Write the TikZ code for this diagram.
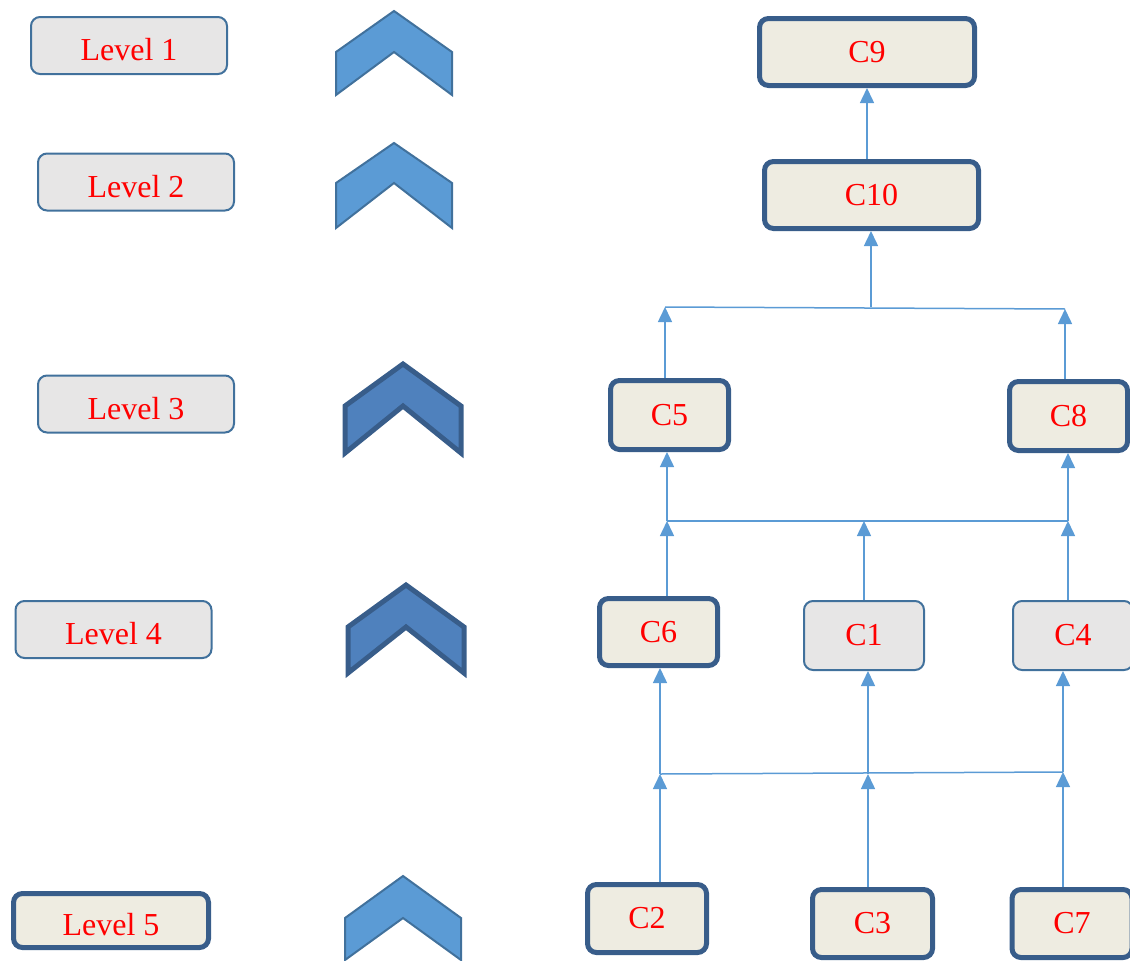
\documentclass[tikz,border=0pt]{standalone}
\usepackage{fontspec}
\setmainfont{Liberation Serif}
\usetikzlibrary{arrows.meta,positioning}
\definecolor{levelgray}{RGB}{231,230,230}
\definecolor{boxbeige}{RGB}{238,236,225}
\definecolor{edgeblue}{RGB}{65,113,156}
\definecolor{darkedge}{RGB}{56,93,138}
\definecolor{linkblue}{RGB}{91,155,213}
\definecolor{chevfill}{RGB}{79,129,189}

\tikzset{
  thinbox/.style={rectangle, draw=edgeblue, line width=2pt, rounded corners=9pt, fill=levelgray, text=red, font=\fontsize{32}{34}\selectfont, inner sep=0pt},
  thickbox/.style={thinbox, draw=darkedge, line width=5pt, fill=boxbeige},
  lowtext/.style={text height=30pt, text depth=0pt},
  link/.style={draw=linkblue, line width=1.5pt, -{Triangle[width=14pt,length=15pt]}},
  bus/.style={draw=linkblue, line width=1.5pt},
  chevlight/.style={fill=linkblue, draw=edgeblue, line width=2pt},
  chevdark/.style={fill=chevfill, draw=darkedge, line width=5pt},
}

\begin{document}
\begin{tikzpicture}[x=1pt, y=-1pt]
    \useasboundingbox (0,0) rectangle (1130,961);

    % Levels
    \node[thinbox, lowtext, minimum width=196pt, minimum height=57pt] (level1) at (129,45.5) {Level 1};
    \node[thinbox, lowtext, minimum width=196pt, minimum height=57pt] (level2) at (136,182) {Level 2};
    \node[thinbox, lowtext, minimum width=196pt, minimum height=57pt] (level3) at (136,404) {Level 3};
    \node[thinbox, lowtext, minimum width=196pt, minimum height=57pt] (level4) at (113.5,629.5) {Level 4};
    \node[thickbox, lowtext, minimum width=195pt, minimum height=54pt] (level5) at (111,920.5) {Level 5};

    % Chevrons
    \foreach \cx/\ty/\sy/\by/\st in {394/11/52/95/chevlight, 394/143/183/228/chevlight,
        403/364/406/453/chevdark, 406/585/627/673/chevdark, 403/876/918/960/chevlight}
      \draw[\st] (\cx,\ty) -- (\cx+58,\sy) -- (\cx+58,\by) -- (\cx,\sy)
        -- (\cx-58,\by) -- (\cx-58,\sy) -- cycle;

    % Top
    \node[thickbox, minimum width=215pt, minimum height=67pt] (C9) at (867,52) {C9};
    \node[thickbox, minimum width=214pt, minimum height=67pt] (C10) at (871.5,195) {C10};

    % Middle
    \node[thickbox, minimum width=118pt, minimum height=69pt] (C5) at (669.5,415) {C5};
    \node[thickbox, minimum width=118pt, minimum height=69pt] (C8) at (1068.5,416) {C8};
    \node[thickbox, minimum width=118pt, minimum height=67pt] (C6) at (658.5,632) {C6};
    \node[thinbox, minimum width=120pt, minimum height=69pt] (C1) at (864,635.5) {C1};
    \node[thinbox, minimum width=120pt, minimum height=69pt] (C4) at (1073,635.5) {C4};

    % Bottom
    \node[thickbox, minimum width=119pt, minimum height=68pt] (C2) at (647,918.5) {C2};
    \node[thickbox, minimum width=120pt, minimum height=68pt] (C3) at (872.5,923.5) {C3};
    \node[thickbox, minimum width=120pt, minimum height=68pt] (C7) at (1072,923.5) {C7};

    % Bus points
    \coordinate (b1l) at (665,307);
    \coordinate (b1m) at (871,307);
    \coordinate (b1r) at (1065,309);
    \coordinate (b2l) at (667,521);
    \coordinate (b2m) at (864,521);
    \coordinate (b2r) at (1068,521);
    \coordinate (b3l) at (660,774);
    \coordinate (b3m) at (868,774);
    \coordinate (b3r) at (1063,772);

    \draw[bus] (b1l) -- (b1r);
    \draw[bus] (b2l) -- (b2r);
    \draw[bus] (b3l) -- (b3r);

    % Arrows
    \draw[link] (C10.north -| C9.south) -- (C9.south);
    \draw[link] (b1m) -- (C10.south -| b1m);
    \draw[link] (C5.north -| b1l) -- (b1l);
    \draw[link] (C8.north -| b1r) -- (b1r);

    \draw[link] (b2l) -- (C5.south -| b2l);
    \draw[link] (b2r) -- (C8.south -| b2r);
    \draw[link] (C6.north -| b2l) -- (b2l);
    \draw[link] (C1.north -| b2m) -- (b2m);
    \draw[link] (C4.north -| b2r) -- (b2r);

    \draw[link] (b3l) -- (C6.south -| b3l);
    \draw[link] (b3m) -- (C1.south -| b3m);
    \draw[link] (b3r) -- (C4.south -| b3r);
    \draw[link] (C2.north -| b3l) -- (b3l);
    \draw[link] (C3.north -| b3m) -- (b3m);
    \draw[link] (C7.north -| b3r) -- (b3r);
\end{tikzpicture}
\end{document}
